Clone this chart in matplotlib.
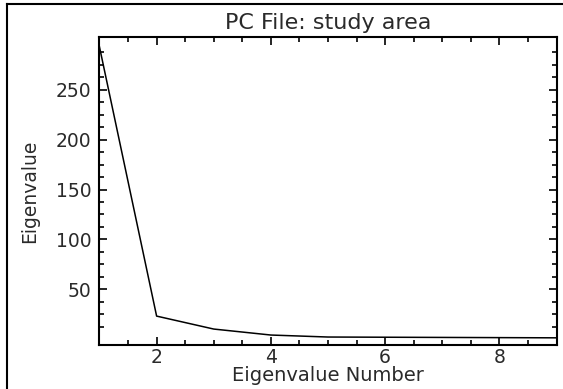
import numpy as np
import matplotlib
matplotlib.use('Agg')
import matplotlib.pyplot as plt
from matplotlib.ticker import FixedLocator, MultipleLocator
from matplotlib.lines import Line2D

# eigenvalues
eig_number = [1, 2, 3, 4, 5, 6, 7, 8, 9]
eig_value = [293, 23, 10, 4, 2, 1.8, 1.6, 1.4, 1.2]

y_major = [50, 100, 150, 200, 250]
x_major = [2, 4, 6, 8]

text_col = '#2a2a2a'

fig = plt.figure(figsize=(5.63, 3.89), dpi=100)
ax = fig.add_axes([0.1767, 0.1131, 0.8118, 0.7918])

ax.plot(eig_number, eig_value, color='black', linewidth=1.1)

ax.set_xlim(1, 9)
ax.set_ylim(-6, 303)

ax.set_xticks(x_major)
ax.set_yticks(y_major)
ax.xaxis.set_minor_locator(MultipleLocator(0.5))
ax.yaxis.set_minor_locator(FixedLocator(np.arange(12.5, 300, 12.5)))

ax.tick_params(which='both', direction='in', top=True, right=True, width=1.2, color='black')
ax.tick_params(which='major', length=6, labelsize=13.5, labelcolor=text_col)
ax.tick_params(which='minor', length=3.5)
ax.tick_params(axis='y', which='major', pad=6)
ax.tick_params(axis='x', which='major', pad=2.5)

for sp in ax.spines.values():
    sp.set_linewidth(1.5)

ax.set_title('PC File: study area', fontsize=16, color=text_col, pad=6)
ax.set_xlabel('Eigenvalue Number', fontsize=14, color=text_col, labelpad=-1)
ax.set_ylabel('Eigenvalue', fontsize=13.5, color=text_col, labelpad=12)

# thin frame around the exported window (left and top edges visible)
fig.add_artist(Line2D([7.5 / 563, 7.5 / 563], [0, 1 - 4 / 389], transform=fig.transFigure,
                      color='black', linewidth=1.5))
fig.add_artist(Line2D([7.5 / 563, 1], [1 - 4 / 389, 1 - 4 / 389], transform=fig.transFigure,
                      color='black', linewidth=1.5))

fig.savefig('out.png', dpi=100)
